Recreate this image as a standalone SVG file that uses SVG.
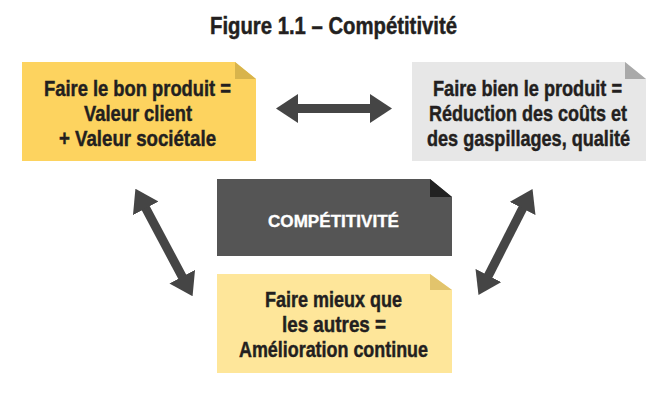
<svg xmlns="http://www.w3.org/2000/svg" width="668" height="404" viewBox="0 0 668 404">
  <style>
    .t { font-family: "Liberation Sans", Arial, sans-serif; font-weight: bold; fill: #231f20; stroke: #231f20; stroke-width: 0.45px; text-anchor: middle; }
    .box { font-size: 21.5px; }
    .title { font-size: 23px; }
    .center { font-size: 17px; fill: #ffffff; stroke: #ffffff; stroke-width: 0.35px; }
    .arrow { stroke: #454545; stroke-width: 9; fill: none; marker-start: url(#head); marker-end: url(#head); }
  </style>
  <defs>
    <marker id="head" markerUnits="userSpaceOnUse" viewBox="0 0 22 29" markerWidth="22" markerHeight="29" refX="1" refY="14.5" orient="auto-start-reverse">
      <path d="M0,0 L22,14.5 L0,29 Z" fill="#454545"/>
    </marker>
  </defs>
  <rect width="668" height="404" fill="#ffffff"/>

  <text class="t title" x="333.5" y="34" textLength="247" lengthAdjust="spacingAndGlyphs">Figure 1.1 – Compétitivité</text>

  <g id="connectors">
    <line class="arrow" x1="297" y1="108.5" x2="371" y2="108.5"/>
    <line class="arrow" x1="145.3" y1="207.4" x2="182.7" y2="277.6"/>
    <line class="arrow" x1="523" y1="207.6" x2="488" y2="276.4"/>
  </g>

  <g id="node-bon-produit">
    <polygon points="22,62 235,62 256,79 256,161 22,161" fill="#fdd35f"/>
    <polygon points="235,62 235,79 256,79" fill="#d8b44c"/>
    <text class="t box" x="137.5" y="96" textLength="187" lengthAdjust="spacingAndGlyphs">Faire le bon produit =</text>
    <text class="t box" x="138" y="121" textLength="108" lengthAdjust="spacingAndGlyphs">Valeur client</text>
    <text class="t box" x="137.5" y="146" textLength="157" lengthAdjust="spacingAndGlyphs">+ Valeur sociétale</text>
  </g>

  <g id="node-bien-produit">
    <polygon points="412,62 625,62 646,79 646,161 412,161" fill="#e7e7e7"/>
    <polygon points="625,62 625,79 646,79" fill="#a9a9a9"/>
    <text class="t box" x="527.5" y="96" textLength="189" lengthAdjust="spacingAndGlyphs">Faire bien le produit =</text>
    <text class="t box" x="528" y="121" textLength="198" lengthAdjust="spacingAndGlyphs">Réduction des coûts et</text>
    <text class="t box" x="528.5" y="146" textLength="203" lengthAdjust="spacingAndGlyphs">des gaspillages, qualité</text>
  </g>

  <g id="node-competitivite">
    <polygon points="217,179 430,179 452,197 452,256 217,256" fill="#555555"/>
    <polygon points="430,179 430,197 452,197" fill="#222222"/>
    <text class="t center" x="333.5" y="227" textLength="131" lengthAdjust="spacingAndGlyphs">COMPÉTITIVITÉ</text>
  </g>

  <g id="node-mieux">
    <polygon points="217,274 430,274 452,290 452,373 217,373" fill="#fee69a"/>
    <polygon points="430,274 430,290 452,290" fill="#e2c46c"/>
    <text class="t box" x="333.5" y="307" textLength="137" lengthAdjust="spacingAndGlyphs">Faire mieux que</text>
    <text class="t box" x="334" y="332" textLength="104" lengthAdjust="spacingAndGlyphs">les autres =</text>
    <text class="t box" x="333.5" y="357" textLength="189" lengthAdjust="spacingAndGlyphs">Amélioration continue</text>
  </g>
</svg>
